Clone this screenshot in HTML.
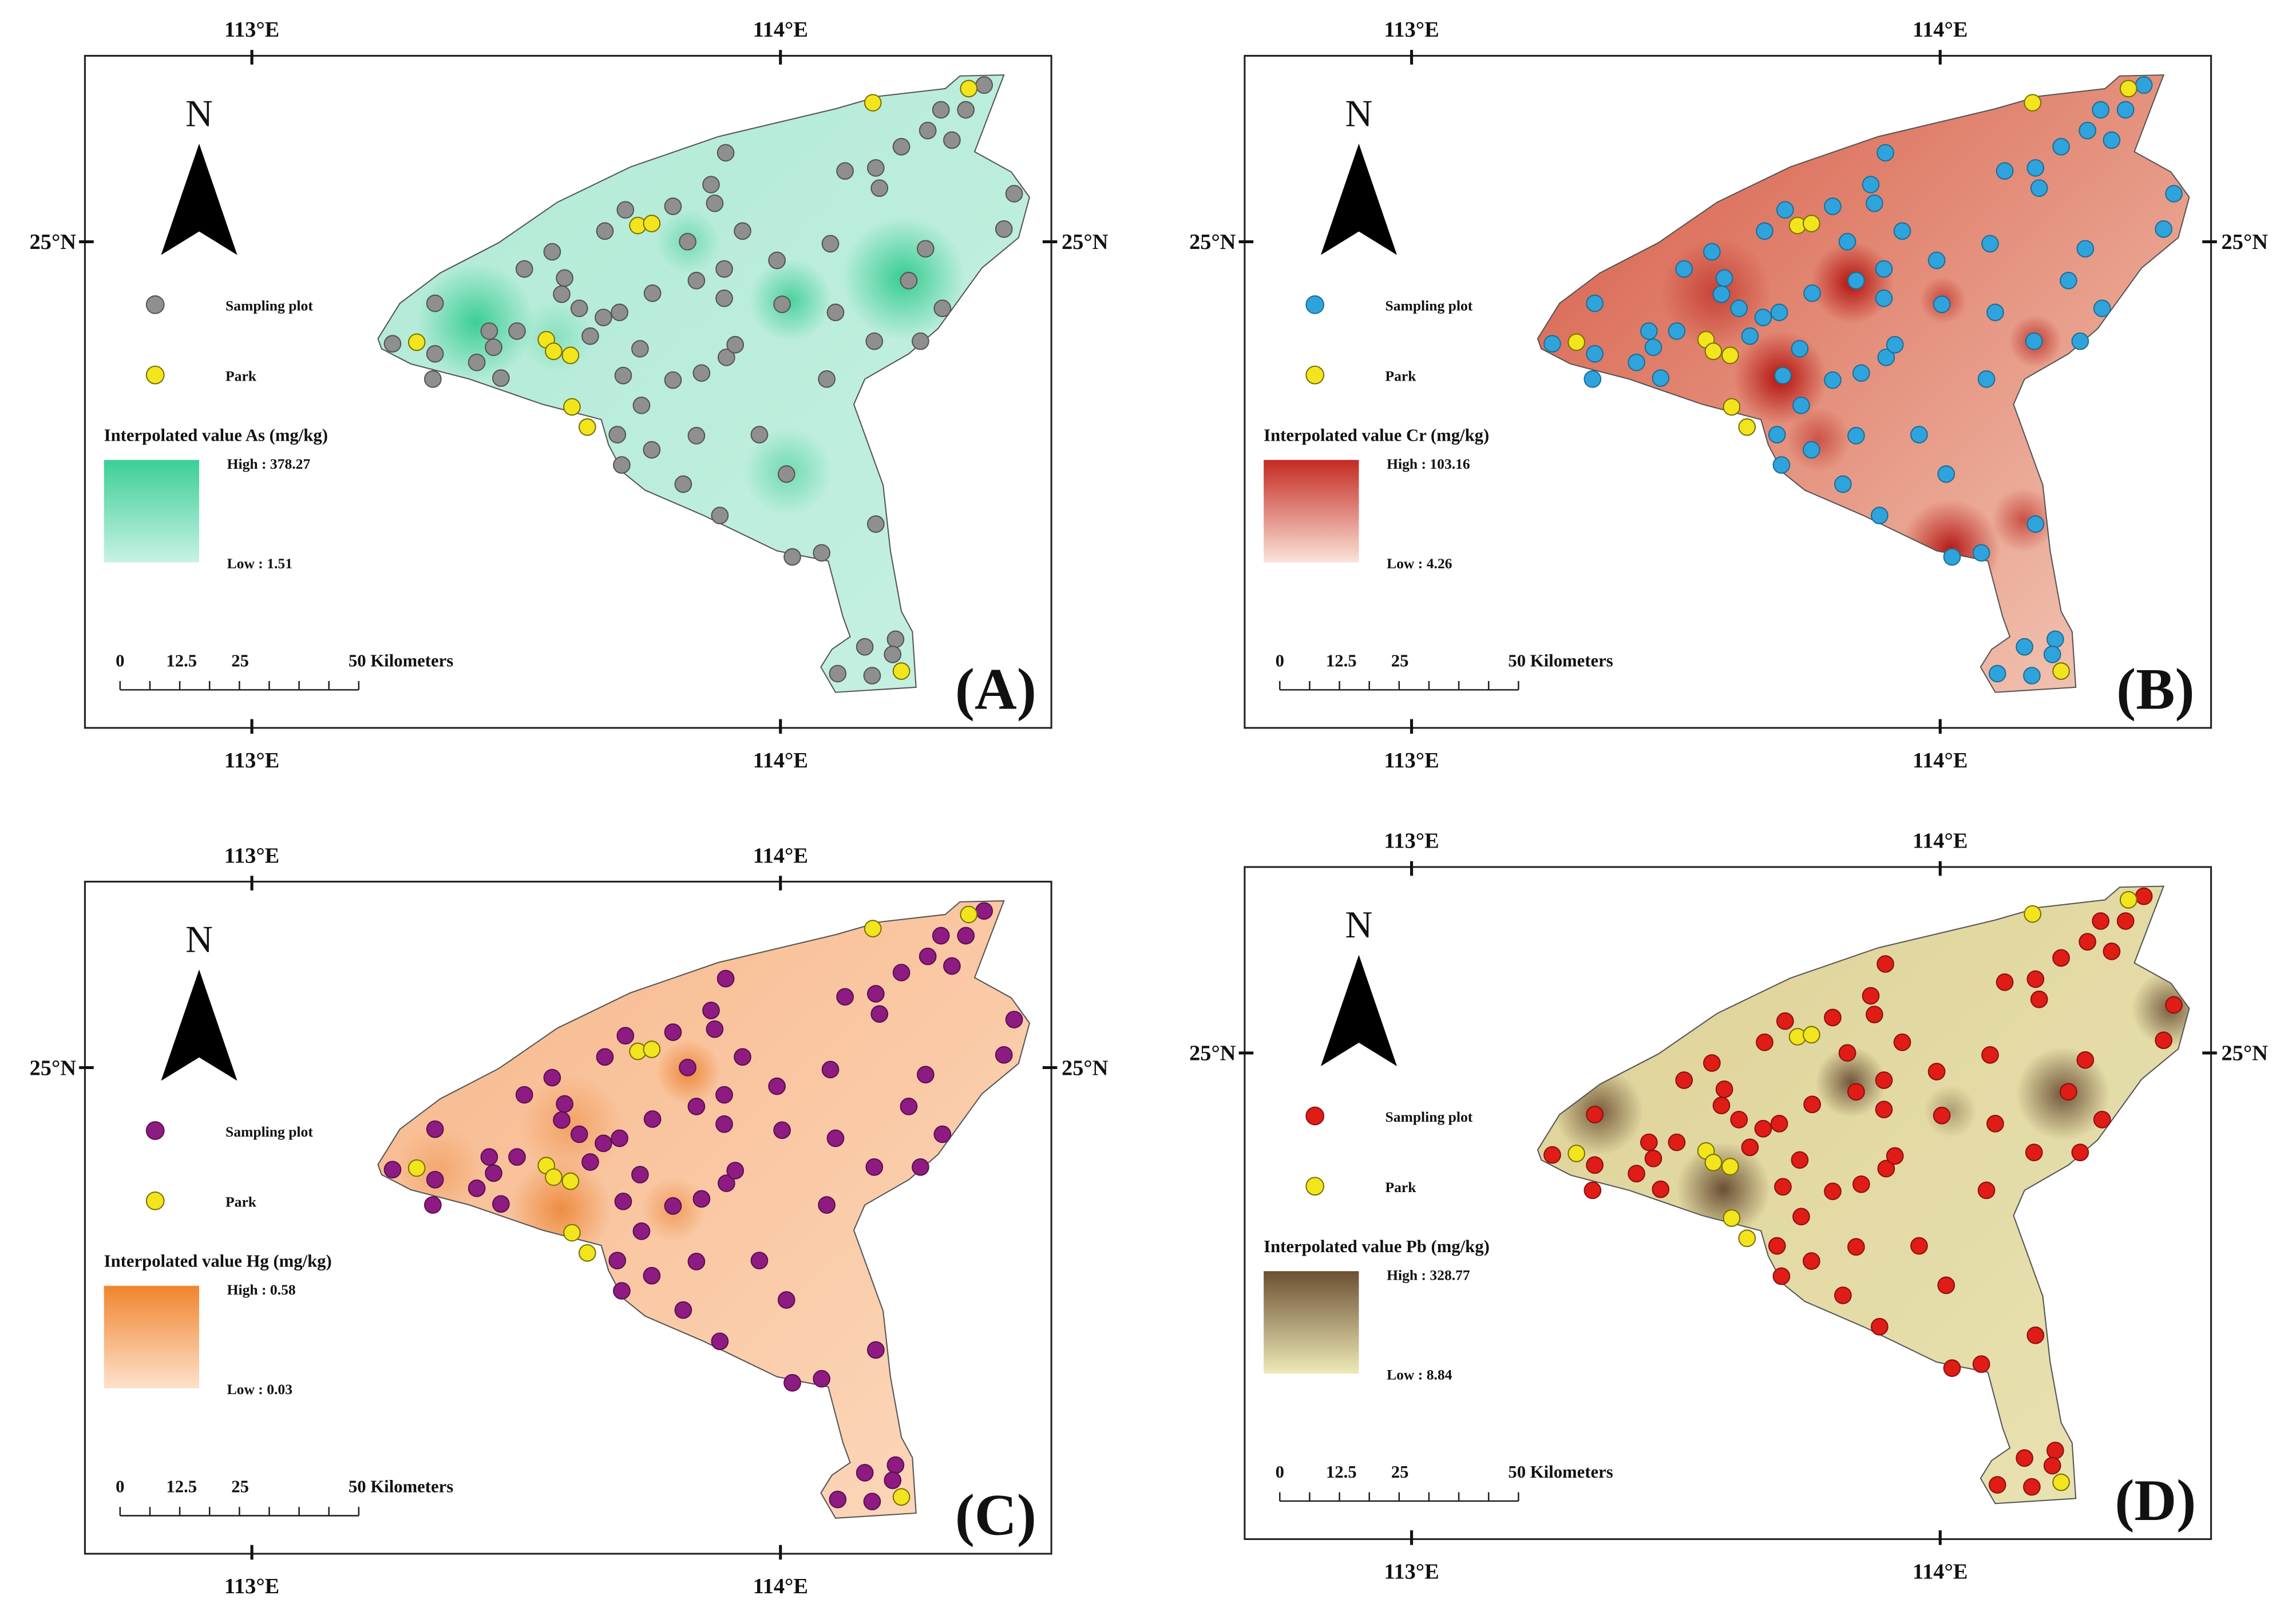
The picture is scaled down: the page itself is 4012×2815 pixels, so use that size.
<!DOCTYPE html>
<html><head><meta charset="utf-8">
<style>
html,body{margin:0;padding:0;background:#fff;}
svg{display:block;}
text{font-family:"Liberation Serif",serif;font-weight:bold;fill:#111;}
</style></head>
<body>
<svg id="fig" width="4012" height="2815" viewBox="0 0 1568 1100" xmlns="http://www.w3.org/2000/svg">
<defs id="defs"></defs>
</svg>
<script>
// Sampling site positions (reference-frame units, panel A zoom space)
const siteX = [535,593,593,590,650,667,673,683,705,715,753,770,766,790,805,823,845,825,853,873,875,850,842,848,889,890,918,918,932,938,950,950,957,982,988,988,991,1003,970,975,990,1013,1036,1060,1067,1073,1081,1121,1128,1133,1140,1153,1195,1200,1193,1195,1240,1256,1263,1230,1266,1284,1299,1318,1343,1286,1370,1384,1180,1222,1218,1143,1190];
const siteY = [670,590,690,740,707,645,677,738,645,522,488,540,572,600,655,618,608,447,405,680,792,733,850,910,880,570,398,742,948,468,545,852,728,1010,580,522,697,672,355,392,292,447,850,505,592,928,1092,1084,740,472,608,328,322,362,665,1027,545,665,482,280,248,207,267,207,158,600,443,373,1270,1255,1285,1323,1327];
const parkX = [568,745,755,778,780,801,870,889,1191,1322,1230];
const parkY = [667,662,685,693,795,835,436,432,193,165,1318];
const boundX = [515,545,600,680,760,860,980,1140,1200,1290,1310,1370,1330,1380,1405,1390,1340,1280,1240,1180,1165,1205,1215,1230,1245,1250,1140,1120,1135,1160,1150,1130,1060,960,880,850,830,820,740,640,560,520];
const boundY = [660,590,530,470,390,320,260,205,180,165,140,138,290,330,380,460,520,640,690,740,790,950,1080,1200,1240,1350,1360,1310,1275,1250,1210,1100,1080,1010,960,925,870,820,790,740,710,680];
const panelLabels = ["(A)","(B)","(C)","(D)"];
const elements = ["As","Cr","Hg","Pb"];
const highVals = ["378.27","103.16","0.58","328.77"];
const lowVals = ["1.51","4.26","0.03","8.84"];

const NS="http://www.w3.org/2000/svg";
const svg=document.getElementById('fig');
const defs=document.getElementById('defs');
function mk(tag,attrs,parent){const e=document.createElementNS(NS,tag);for(const k in attrs)e.setAttribute(k,attrs[k]);(parent||svg).appendChild(e);return e;}
const px=zx=>0.5*zx+0.6, py=zy=>0.345*zy+3.5;

const panels=[
 {dx:0,dy:0,base1:"#b0ead5",base2:"#c6f0e2",hot:"#2fcb8e",dot:"#8f8f8f",dotS:"#555",g1:"#3ccf96",g2:"#c8f2e4",
  spots:[[325,220,40,0.9],[540,205,28,0.8],[617,190,42,0.95],[470,165,22,0.5],[538,322,30,0.55],[380,230,25,0.35]]},
 {dx:792,dy:0,base1:"#d65a45",base2:"#f3cbb9",hot:"#b3120e",dot:"#2fa3dc",dotS:"#1d6e95",g1:"#c42a22",g2:"#fbe3d8",
  spots:[[473,193,28,1],[424,258,32,1],[540,375,34,0.95],[598,233,18,0.7],[380,200,38,0.55],[535,205,16,0.6],[590,355,22,0.6],[450,300,22,0.5]]},
 {dx:0,dy:564,base1:"#f7b78a",base2:"#fcd9bd",hot:"#ea7a24",dot:"#8e1b82",dotS:"#5a1050",g1:"#f0852e",g2:"#fde2cc",
  spots:[[470,168,22,0.8],[383,262,35,0.75],[460,262,22,0.55],[390,205,35,0.45],[300,235,30,0.35]]},
 {dx:792,dy:554,base1:"#ddd196",base2:"#e9e3b3",hot:"#5e4028",dot:"#e01c17",dotS:"#8a1010",g1:"#6c5033",g2:"#eeeab8",
  spots:[[472,185,24,0.85],[617,193,32,0.85],[385,258,32,0.9],[300,205,30,0.8],[690,135,26,0.8],[540,205,18,0.4]]}
];

panels.forEach((P,i)=>{
 const g=mk('g',{transform:`translate(${P.dx},${P.dy})`});
 
 
 const fr=mk('rect',{x:58,y:38,width:660,height:459,fill:'#fff',stroke:'#222','stroke-width':1.2},g);
 
 
 [[172,'113°E'],[533,'114°E']].forEach(([x,t])=>{
  mk('line',{x1:x,y1:34,x2:x,y2:44,stroke:'#111','stroke-width':2},g);
  mk('line',{x1:x,y1:491,x2:x,y2:501,stroke:'#111','stroke-width':2},g);
  const a=mk('text',{x:x,y:25,'text-anchor':'middle','font-size':15},g);a.textContent=t;
  
  
  const b=mk('text',{x:x,y:524,'text-anchor':'middle','font-size':15},g);b.textContent=t;
  
  
 });
 mk('line',{x1:54,y1:165,x2:64,y2:165,stroke:'#111','stroke-width':2},g);
 mk('line',{x1:712,y1:165,x2:722,y2:165,stroke:'#111','stroke-width':2},g);
 const l1=mk('text',{x:52,y:170,'text-anchor':'end','font-size':15},g);l1.textContent='25°N';
 
 
 const l2=mk('text',{x:725,y:170,'font-size':15},g);l2.textContent='25°N';
 
 
 const pts=boundX.map((x,k)=>px(x)+','+py(boundY[k])).join(' ');
 const cp=mk('clipPath',{id:'clip'+i},defs);mk('polygon',{points:pts},cp);
 const lg=mk('linearGradient',{id:'base'+i,x1:0,y1:0,x2:1,y2:1},defs);
 mk('stop',{offset:0,'stop-color':P.base1},lg);mk('stop',{offset:1,'stop-color':P.base2},lg);
 const poly=mk('polygon',{points:pts,fill:`url(#base${i})`},g);
 
 
 const hg=mk('g',{'clip-path':`url(#clip${i})`},g);
 P.spots.forEach((s,k)=>{
  const rg=mk('radialGradient',{id:`h${i}_${k}`},defs);
  mk('stop',{offset:0,'stop-color':P.hot,'stop-opacity':s[3]},rg);
  mk('stop',{offset:1,'stop-color':P.hot,'stop-opacity':0},rg);
  const c=mk('circle',{cx:s[0],cy:s[1],r:s[2],fill:`url(#h${i}_${k})`},hg);
  
  
 });
 mk('polygon',{points:pts,fill:'none',stroke:'#555','stroke-width':0.8},g);
 siteX.forEach((x,k)=>{
  const c=mk('circle',{cx:px(x),cy:py(siteY[k]),r:5.6,fill:P.dot,stroke:P.dotS,'stroke-width':0.8},g);
  
  
 });
 parkX.forEach((x,k)=>{
  const c=mk('circle',{cx:px(x),cy:py(parkY[k]),r:5.6,fill:'#f2e51e',stroke:'#7a7000','stroke-width':0.8},g);
  
  
 });
 const n=mk('text',{x:136,y:86,'text-anchor':'middle','font-size':26,style:'font-weight:normal'},g);n.textContent='N';
 
 
 const ar=mk('polygon',{points:'136,98 162,174 136,158 110,174',fill:'#000'},g);
 
 
 const d1=mk('circle',{cx:106,cy:208,r:6,fill:P.dot,stroke:P.dotS,'stroke-width':0.8},g);
 
 
 const t1=mk('text',{x:154,y:212,'font-size':10},g);t1.textContent='Sampling plot';
 
 
 const d2=mk('circle',{cx:106,cy:256,r:6,fill:'#f2e51e',stroke:'#7a7000','stroke-width':0.8},g);
 
 
 const t2=mk('text',{x:154,y:260,'font-size':10},g);t2.textContent='Park';
 
 
 const t3=mk('text',{x:71,y:301,'font-size':12},g);t3.textContent=`Interpolated value ${elements[i]} (mg/kg)`;
 
 
 const vg=mk('linearGradient',{id:'leg'+i,x1:0,y1:0,x2:0,y2:1},defs);
 mk('stop',{offset:0,'stop-color':P.g1},vg);mk('stop',{offset:1,'stop-color':P.g2},vg);
 const lr=mk('rect',{x:71,y:314,width:65,height:70,fill:`url(#leg${i})`},g);
 
 
 const t4=mk('text',{x:155,y:320,'font-size':10},g);t4.textContent='High : '+highVals[i];
 
 
 const t5=mk('text',{x:155,y:388,'font-size':10},g);t5.textContent='Low : '+lowVals[i];
 
 
 [[82,'0'],[124,'12.5'],[164,'25'],[238,'50 Kilometers']].forEach(([x,t])=>{
  const s=mk('text',{x:x,y:455,'text-anchor':t.length>4?'start':'middle','font-size':12},g);s.textContent=t;
  
  
 });
 const sb=mk('line',{x1:82,y1:471,x2:245,y2:471,stroke:'#222','stroke-width':1},g);
 
 
 for(let k=0;k<=8;k++){const x=82+k*163/8;mk('line',{x1:x,y1:465,x2:x,y2:471,stroke:'#222','stroke-width':1},g);}
 const pl=mk('text',{x:680,y:484,'text-anchor':'middle','font-size':40},g);pl.textContent=panelLabels[i];
 
 
});
</script>
</body></html>
